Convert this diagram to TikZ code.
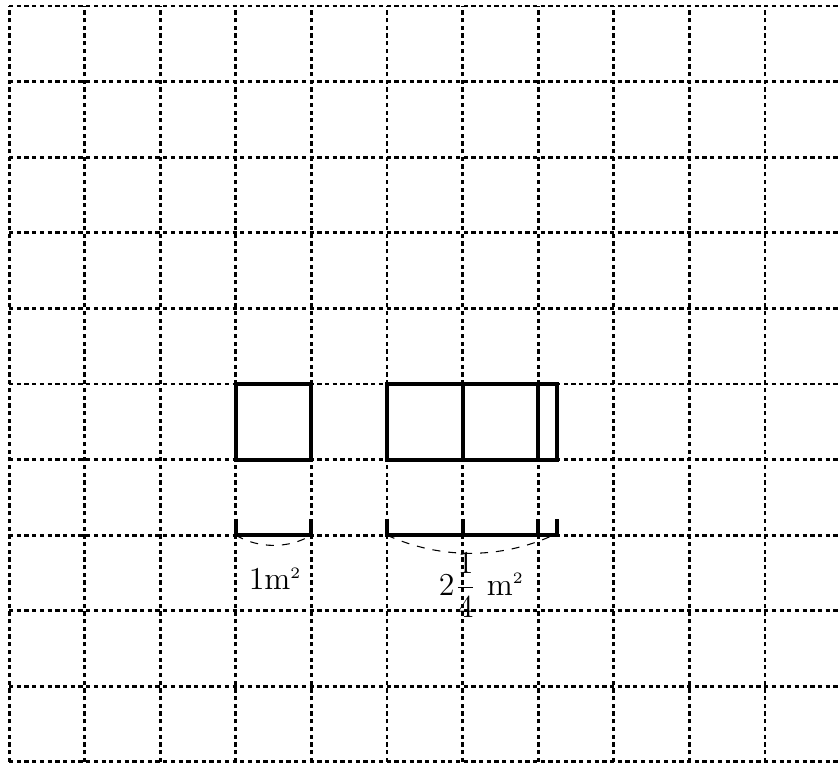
\documentclass[tikz,border=0pt]{standalone}
\begin{document}
\begin{tikzpicture}[
    rejilla/.style={line width=1.1pt, dash pattern=on 1.6pt off 1.3pt},
    borde/.style={line width=1.5pt},
    arco/.style={dashed, thin}]
    \useasboundingbox (-0.12,-0.013) rectangle (10.966,10.08);
    % Cuadricula
    \foreach \y in {0,...,10}
        \draw[rejilla] (0,\y) -- (10.97,\y);
    \foreach \x in {0,...,10}
        \draw[rejilla] (\x,0) -- (\x,10);
    % Cuadrado de 1 m2
    \draw[borde] (3,4) rectangle (4,5);
    % Rectangulo de 2 1/4 m2
    \draw[borde] (5,4) rectangle (7.25,5);
    \draw[borde] (6,4) -- (6,5);
    \draw[borde] (7,4) -- (7,5);
    % Medidas
    \draw[borde] (3,3.22) -- (3,3) -- (4,3) -- (4,3.22);
    \draw[borde] (5,3.22) -- (5,3) -- (7.25,3) -- (7.25,3.22);
    \draw[borde] (6,3) -- (6,3.22);
    \draw[borde] (7,3) -- (7,3.22);
    \draw[arco] (3,3) .. controls (3.3,2.82) and (3.7,2.82) .. (4,3);
    \draw[arco] (5,3) .. controls (5.7,2.68) and (6.5,2.68) .. (7.2,3);
    \node (uno) at (3.52,2.42) {\large 1m$^{\scriptscriptstyle 2}$};
    \node (dos) at (6.25,2.34) {\large $2\displaystyle\frac{1}{4}$ m$^{\scriptscriptstyle 2}$};
\end{tikzpicture}
\end{document}
